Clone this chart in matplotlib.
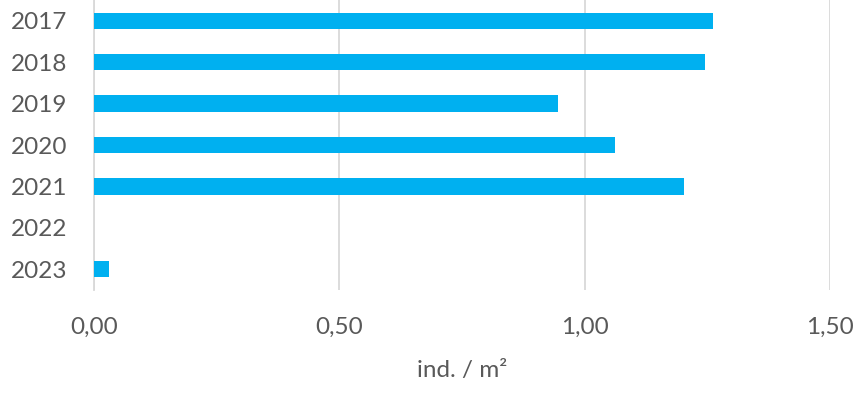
import matplotlib
matplotlib.use("Agg")
import matplotlib.pyplot as plt
from matplotlib.ticker import FuncFormatter

years = ["2017", "2018", "2019", "2020", "2021", "2022", "2023"]
density = [1.261, 1.245, 0.946, 1.062, 1.202, 0.0, 0.030]
xticks = [0.0, 0.5, 1.0, 1.5]

plt.rcParams["font.family"] = ["Lato", "DejaVu Sans"]
text_color = "#595959"

fig = plt.figure(figsize=(8.56, 3.93), dpi=100)
ax = fig.add_axes([94 / 856, 1 - 290 / 393, (830 - 94) / 856, 290 / 393])

pos = list(range(len(years)))
ax.barh(pos, density, height=0.39, color="#00B0F0", zorder=3)
ax.set_ylim(len(years) - 0.5, -0.5)
ax.set_yticks(pos)
ax.set_yticklabels(years)
ax.set_xlim(0, 1.5)
ax.set_xticks(xticks)
ax.xaxis.set_major_formatter(FuncFormatter(lambda v, p: f"{v:.2f}".replace(".", ",")))

ax.grid(axis="x", color="#d9d9d9", linewidth=1.3, zorder=0)
for s in ["top", "right", "bottom"]:
    ax.spines[s].set_visible(False)
ax.spines["left"].set_color("#d9d9d9")
ax.spines["left"].set_linewidth(1.3)

ax.tick_params(axis="both", length=0, labelsize=17.5, colors=text_color)
ax.tick_params(axis="x", pad=19)
ax.tick_params(axis="y", pad=19)

ax.set_xlabel("ind. / m²", fontsize=17.5, color=text_color, labelpad=16)

fig.savefig("out.png", dpi=100)
